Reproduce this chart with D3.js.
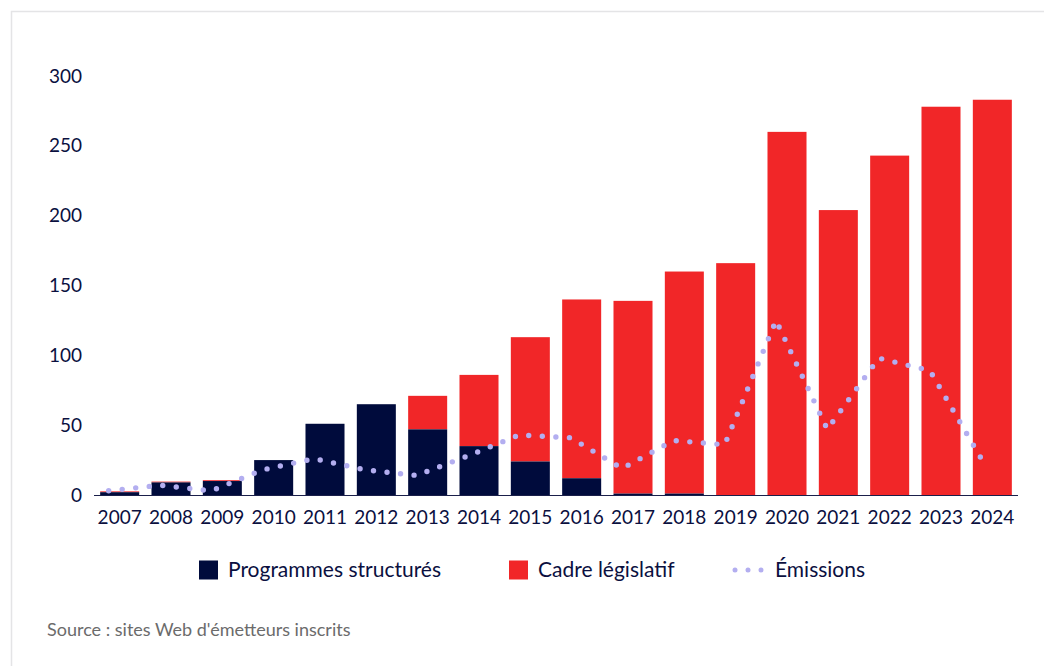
<!DOCTYPE html>
<html>
<head>
<meta charset="utf-8">
<script src="https://cdnjs.cloudflare.com/ajax/libs/d3/7.8.5/d3.min.js"></script>
<style>
  body { margin: 0; background: #fff; }
  svg { display: block; font-family: Lato, "Open Sans", sans-serif; }
</style>
</head>
<body>
<svg id="chart" width="1044" height="666"></svg>
<script>
// data
var years = ["2007","2008","2009","2010","2011","2012","2013","2014","2015","2016","2017","2018","2019","2020","2021","2022","2023","2024"];
var programmes = [2, 9, 10, 25, 51, 65, 47, 35, 24, 12, 1, 1, 0, 0, 0, 0, 0, 0];
var cadre = [0.6, 0.6, 0.6, 0, 0, 0, 24, 51, 89, 128, 138, 159, 166, 260, 204, 243, 278, 283];
var emissions = [3, 7, 3, 18, 26, 18, 14, 28, 43, 41, 19, 39, 36, 125, 47, 98, 89, 26];
var yTicks = [0, 50, 100, 150, 200, 250, 300];

var NAVY = "#000b3c", RED = "#f12628", LAV = "#b3aef0", TXT = "#0b103f";

var svg = d3.select("#chart");

// light frame
svg.append("path")
    .attr("d", "M11.5,666 V11.5 H1044")
    .attr("fill", "none")
    .attr("stroke", "#e4e4e6")
    .attr("stroke-width", 1.5);

var x = d3.scaleBand().domain(years).range([94, 1018]).paddingInner(0.24).paddingOuter(0.12);
var y = d3.scaleLinear().domain([0, 300]).range([495, 76]);

var rows = years.map(function(yr, i){
    return { year: yr, prog: programmes[i], cadre: cadre[i], em: emissions[i] };
});

// bars: programmes at the bottom, cadre legislatif stacked on top
svg.append("g").selectAll("rect.cadre").data(rows.filter(function(d){ return d.cadre > 0; }))
  .enter().append("rect")
    .attr("class", "cadre")
    .attr("x", function(d){ return x(d.year); })
    .attr("width", x.bandwidth())
    .attr("y", function(d){ return y(d.prog + d.cadre); })
    .attr("height", function(d){ return y(d.prog) - y(d.prog + d.cadre); })
    .attr("fill", RED);

svg.append("g").selectAll("rect.prog").data(rows.filter(function(d){ return d.prog > 0; }))
  .enter().append("rect")
    .attr("class", "prog")
    .attr("x", function(d){ return x(d.year); })
    .attr("width", x.bandwidth())
    .attr("y", function(d){ return y(d.prog); })
    .attr("height", function(d){ return y(0) - y(d.prog); })
    .attr("fill", NAVY);

// baseline
svg.append("line")
    .attr("x1", 94).attr("x2", 1018)
    .attr("y1", y(0) + 0.5).attr("y2", y(0) + 0.5)
    .attr("stroke", "#1a1f4a").attr("stroke-width", 1.2);

// emissions, dotted line (drawn slightly left of the bar centres, as in the source)
var line = d3.line()
    .x(function(d){ return x(d.year) + x.bandwidth() / 2 - 11; })
    .y(function(d){ return y(d.em); });

svg.append("path")
    .datum(rows)
    .attr("d", line)
    .attr("fill", "none")
    .attr("stroke", LAV)
    .attr("stroke-width", 5.4)
    .attr("stroke-linecap", "round")
    .attr("stroke-dasharray", "0 13.6");

// y axis
var yAxis = d3.axisLeft(y).tickValues(yTicks).tickSize(0).tickPadding(0);
var gy = svg.append("g").attr("transform", "translate(82,0)").call(yAxis);
gy.select(".domain").remove();
gy.selectAll("text")
    .attr("fill", TXT)
    .style("font-size", "19px")
    .style("font-family", "Lato, 'Open Sans', sans-serif");

// x axis
var xAxis = d3.axisBottom(x).tickSize(0).tickPadding(0);
var gx = svg.append("g").attr("transform", "translate(0,510)").call(xAxis);
gx.select(".domain").remove();
gx.selectAll("text")
    .attr("fill", TXT)
    .attr("dy", "0.71em")
    .style("font-size", "19px")
    .style("font-family", "Lato, 'Open Sans', sans-serif");

// legend
var legend = svg.append("g").attr("transform", "translate(0,570)");
legend.append("rect").attr("x", 199).attr("y", -9.5).attr("width", 19).attr("height", 19).attr("fill", NAVY);
legend.append("text").attr("x", 228).attr("y", 7).text("Programmes structurés")
    .attr("fill", TXT).style("font-size", "21px");
legend.append("rect").attr("x", 509).attr("y", -9.5).attr("width", 19).attr("height", 19).attr("fill", RED);
legend.append("text").attr("x", 538).attr("y", 7).text("Cadre législatif")
    .attr("fill", TXT).style("font-size", "21px");
[735, 748, 761].forEach(function(cx){
    legend.append("circle").attr("cx", cx).attr("cy", 0).attr("r", 2.5).attr("fill", LAV);
});
legend.append("text").attr("x", 775).attr("y", 7).text("Émissions")
    .attr("fill", TXT).style("font-size", "21px");

// source
svg.append("text")
    .attr("x", 47).attr("y", 636)
    .text("Source : sites Web d'émetteurs inscrits")
    .attr("fill", "#6b6b6b")
    .style("font-size", "18px");
</script>
</body>
</html>
